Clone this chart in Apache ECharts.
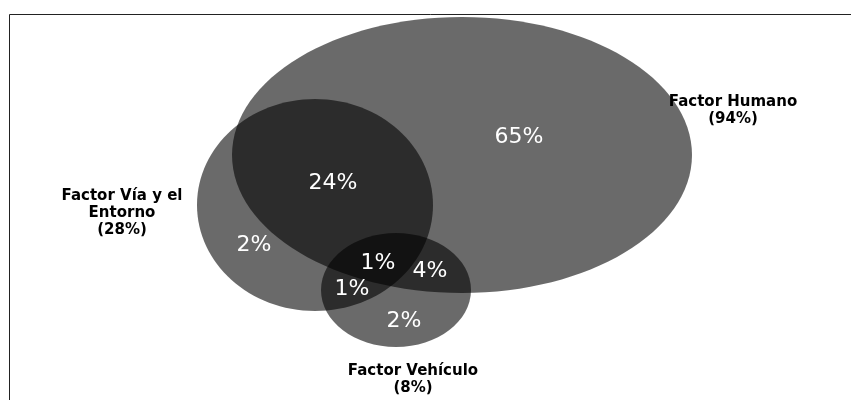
<!DOCTYPE html>
<html>
<head>
<meta charset="utf-8">
<script src="https://cdn.jsdelivr.net/npm/echarts@6/dist/echarts.min.js"></script>
<style>html,body{margin:0;padding:0;background:#fff}#c{width:851px;height:400px}</style>
</head>
<body>
<div id="c"></div>
<script>
// Sets of the Venn diagram (names, share, ellipse centre and radii in chart units)
const setNames = ['Factor Humano', 'Factor Vía y el\nEntorno', 'Factor Vehículo'];
const setShares = ['94%', '28%', '8%'];
const setCentersX = [462, 315, 396];
const setCentersY = [155, 205, 290];
const setRadiiX = [230, 118, 75];
const setRadiiY = [138, 106, 57];
const setLabelX = [733, 122, 413];
const setLabelY = [111, 213, 380];

// Region values (percent of cases) and their anchor points
const regionValues = ['65%', '24%', '2%', '1%', '4%', '1%', '2%'];
const regionX = [519, 333, 254, 378, 430, 352, 404];
const regionY = [137, 183, 245, 263, 271, 289, 321];

const ellipses = setNames.map((n, i) => [setCentersX[i], setCentersY[i], setRadiiX[i], setRadiiY[i]]);
const setLabels = setNames.map((n, i) => [setLabelX[i], setLabelY[i], n + '\n(' + setShares[i] + ')']);
const regionLabels = regionValues.map((v, i) => [regionX[i], regionY[i], v]);

function textItem(font, color, lh) {
  return function (params, api) {
    const c = api.coord([api.value(0), api.value(1)]);
    return {
      type: 'text',
      x: c[0], y: c[1],
      style: {
        text: api.value(2), fill: color, font: font,
        align: 'center', verticalAlign: 'middle', lineHeight: lh
      }
    };
  };
}

const chart = echarts.init(document.getElementById('c'));
chart.setOption({
  animation: false,
  grid: { left: 0, right: 0, top: 0, bottom: 0 },
  xAxis: { type: 'value', min: 0, max: 851, show: false },
  yAxis: { type: 'value', min: 0, max: 400, inverse: true, show: false },
  graphic: [
    { type: 'line', shape: { x1: 9.5, y1: 14.5, x2: 851, y2: 14.5 }, style: { stroke: '#222', lineWidth: 1 } },
    { type: 'line', shape: { x1: 9.5, y1: 14.5, x2: 9.5, y2: 400 }, style: { stroke: '#222', lineWidth: 1 } }
  ],
  series: [
    {
      type: 'custom',
      data: ellipses,
      renderItem: function (params, api) {
        const c = api.coord([api.value(0), api.value(1)]);
        const s = api.size([api.value(2), api.value(3)]);
        return {
          type: 'ellipse',
          shape: { cx: c[0], cy: c[1], rx: s[0], ry: s[1] },
          style: { fill: 'rgba(0,0,0,0.585)' }
        };
      },
      z: 1
    },
    {
      type: 'custom',
      data: regionLabels,
      dimensions: ['x', 'y', { name: 'label', type: 'ordinal' }],
      renderItem: textItem('22px "DejaVu Sans"', '#ffffff', 22),
      z: 3
    },
    {
      type: 'custom',
      data: setLabels,
      dimensions: ['x', 'y', { name: 'label', type: 'ordinal' }],
      renderItem: textItem('bold 15px "DejaVu Sans"', '#000000', 17),
      z: 3
    }
  ]
});
</script>
</body>
</html>
